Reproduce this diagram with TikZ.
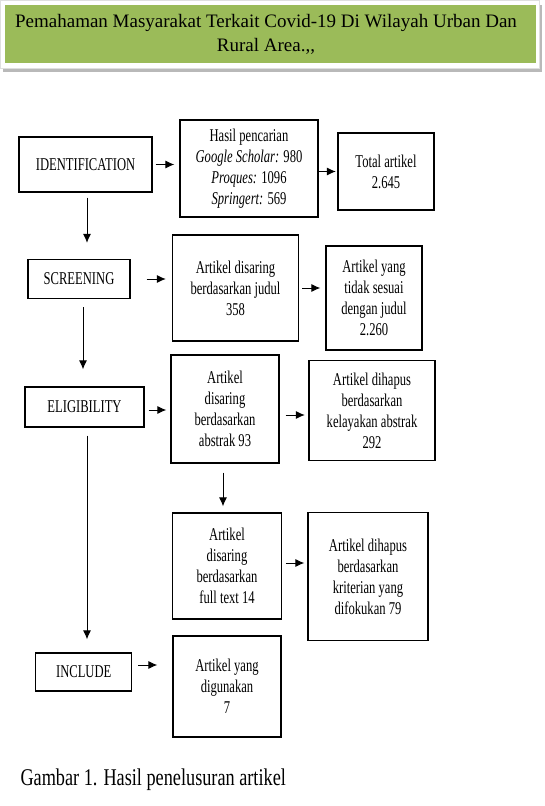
\documentclass[tikz,border=0pt]{standalone}
\usepackage{fontspec}
\setmainfont{Liberation Serif}
\newfontfamily\sempit[FakeStretch=0.7]{Liberation Serif}
\newfontfamily\sempitcap[FakeStretch=0.76]{Liberation Serif}
\usetikzlibrary{arrows.meta}
\definecolor{hijauzaitun}{HTML}{9BBB59}
\newcommand{\isikotak}{\sempit\fontsize{18}{21}\selectfont}
\tikzset{
  every picture/.style={
    line width=1pt,
    >={Latex[width=8pt, length=9pt]}
  },
  kotak/.style={
    draw, line width=1.3pt, align=center,
    inner sep=2pt, font=\isikotak
  },
  panah/.style={
    ->, line width=0.9pt
  }
}

\begin{document}
\begin{tikzpicture}[x=1pt, y=-1pt]
  \useasboundingbox (0,0) rectangle (544,806);
  % judul di atas
  \fill[gray!55] (3,5) rectangle (542,72);
  \filldraw[draw=gray!25, fill=white] (0,0) rectangle (539,68);
  \fill[hijauzaitun] (5,5) rectangle (536,63);
  \node[align=center, font=\fontsize{19}{24}\selectfont] (judul) at (266,34)
    {Pemahaman Masyarakat Terkait Covid-19 Di Wilayah Urban Dan\\ Rural Area.,{},};

  % tahap
  \node[kotak, minimum width=133pt, minimum height=55pt] (ident) at (85.5,164.5) {IDENTIFICATION};
  \node[kotak, minimum width=102pt, minimum height=39pt] (screen) at (79,279) {SCREENING};
  \node[kotak, minimum width=119pt, minimum height=40pt] (elig) at (84.5,407) {ELIGIBILITY};
  \node[kotak, minimum width=96pt, minimum height=38pt] (include) at (83.7,672) {INCLUDE};

  % hasil
  \node[kotak, minimum width=138pt, minimum height=97pt] (hasil) at (249,168.5)
    {Hasil pencarian\\ \textit{Google Scholar:} 980\\ \textit{Proques:} 1096\\ \textit{Springert:} 569};
  \node[kotak, minimum width=96pt, minimum height=77pt] (total) at (386,171.5)
    {Total artikel\\ 2.645};
  \node[kotak, minimum width=126pt, minimum height=106pt] (saringjudul) at (235.5,288)
    {Artikel disaring\\ berdasarkan judul\\ 358};
  \node[kotak, minimum width=96pt, minimum height=104pt] (tidaksesuai) at (374,298)
    {Artikel yang\\ tidak sesuai\\ dengan judul\\ 2.260};
  \node[kotak, minimum width=108pt, minimum height=108pt] (abstrak) at (225,409)
    {Artikel\\ disaring\\ berdasarkan\\ abstrak 93};
  \node[kotak, minimum width=126pt, minimum height=100pt] (hapusabstrak) at (372,410.6)
    {Artikel dihapus\\ berdasarkan\\ kelayakan abstrak\\ 292};
  \node[kotak, minimum width=108.5pt, minimum height=106pt] (fulltext) at (227,566)
    {Artikel\\ disaring\\ berdasarkan\\ full text 14};
  \node[kotak, minimum width=120pt, minimum height=128pt] (hapuskriteria) at (368,576.7)
    {Artikel dihapus\\ berdasarkan\\ kriterian yang\\ difokukan 79};
  \node[kotak, minimum width=108pt, minimum height=101pt] (digunakan) at (227,686.5)
    {Artikel yang\\ digunakan\\ 7};

  % panah mendatar
  \draw[panah, shorten <=3pt, shorten >=5pt] (ident.east) -- (ident.east -| hasil.west);
  \draw[panah, shorten >=1.5pt] (hasil.east |- total.west) -- (total.west);
  \draw[panah, shorten <=16pt, shorten >=6pt] (screen.east) -- (screen.east -| saringjudul.west);
  \draw[panah, shorten <=3pt, shorten >=5pt] (saringjudul.east) -- (saringjudul.east -| tidaksesuai.west);
  \draw[panah, shorten <=4pt, shorten >=4pt] ([yshift=-3pt]elig.east) -- ([yshift=-3pt]elig.east -| abstrak.west);
  \draw[panah, shorten <=6pt, shorten >=3.5pt] ([yshift=-6pt]abstrak.east) -- ([yshift=-6pt]abstrak.east -| hapusabstrak.west);
  \draw[panah, shorten <=4pt, shorten >=3pt] ([yshift=3pt]fulltext.east) -- ([yshift=3pt]fulltext.east -| hapuskriteria.west);
  \draw[panah, shorten <=6pt, shorten >=15pt] ([yshift=7pt]include.east) -- ([yshift=7pt]include.east -| digunakan.west);

  % panah menurun
  \draw[panah, shorten <=5pt, shorten >=16pt] ([xshift=1.5pt]ident.south) -- ([xshift=1.5pt]ident.south |- screen.north);
  \draw[panah, shorten <=8pt, shorten >=17pt] ([xshift=4pt]screen.south) -- ([xshift=4pt]screen.south |- elig.north);
  \draw[panah, shorten <=8pt, shorten >=13pt] ([xshift=2.5pt]elig.south) -- ([xshift=2.5pt]elig.south |- include.north);
  \draw[panah, shorten <=9pt, shorten >=6pt] ([xshift=-2pt]abstrak.south) -- ([xshift=-2pt]abstrak.south |- fulltext.north);

  % keterangan gambar
  \node[anchor=west, inner sep=0pt, font=\sempitcap\fontsize{24}{28}\selectfont] (keterangan) at (20,780)
    {Gambar 1. Hasil penelusuran artikel};
\end{tikzpicture}
\end{document}
